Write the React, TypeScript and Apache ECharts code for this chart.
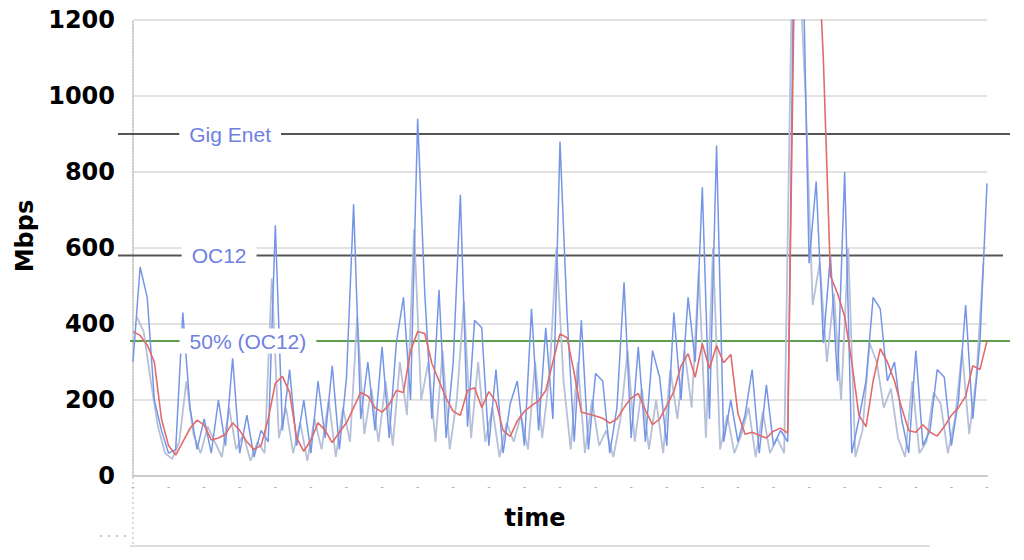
import React, { useEffect, useRef } from "react";
import * as echarts from "echarts";

// time axis: 0..240, 24 tick intervals
const TIME_MIN = 0;
const TIME_MAX = 240;
const TIME_TICK = 10;
const STEP = 2;

// blue samples at t = 0, 2, 4, ... 240 (Mbps)
const blueValues = [
  300, 550, 470, 200, 120, 60, 70, 430, 180, 70,
  150, 60, 200, 80, 310, 60, 160, 50, 120, 90,
  660, 120, 280, 80, 200, 60, 250, 100, 290, 70,
  260, 715, 150, 300, 120, 340, 100, 350, 470, 200,
  940, 480, 150, 490, 100, 300, 740, 130, 410, 390,
  80, 280, 60, 190, 250, 80, 440, 120, 390, 150,
  880, 420, 90, 410, 70, 270, 250, 60, 180, 510,
  100, 340, 90, 330, 260, 80, 430, 200, 470, 300,
  760, 150, 870, 90, 200, 90, 160, 280, 60, 240,
  80, 120, 90, 1600, 1500, 560, 775, 350, 580, 250,
  800, 60, 150, 250, 470, 440, 250, 300, 150, 60,
  330, 80, 120, 280, 260, 80, 200, 450, 150, 350,
  770,
];

// grey samples at t = 1, 3, 5, ... 239 (Mbps)
const grayValues = [
  420, 380, 250, 130, 60, 45, 90, 250, 110, 60,
  130, 90, 50, 180, 70, 110, 40, 90, 60, 520,
  100, 180, 60, 140, 40, 150, 70, 200, 50, 180,
  90, 420, 110, 230, 90, 250, 80, 300, 160, 650,
  200, 300, 90, 330, 70, 200, 460, 100, 300, 90,
  180, 50, 140, 90, 160, 70, 300, 100, 260, 600,
  250, 70, 300, 60, 200, 80, 120, 50, 150, 330,
  90, 230, 70, 200, 60, 280, 150, 330, 180, 540,
  100, 600, 70, 160, 60, 110, 180, 50, 170, 60,
  100, 60, 1200, 1400, 1000, 450, 560, 300, 480, 200,
  600, 50, 120, 350, 300, 180, 230, 100, 50, 250,
  60, 90, 220, 190, 60, 150, 330, 110, 260, 560,
];

// red (smoothed) samples at t = 0, 2, 4, ... 240 (Mbps)
const redValues = [
  380, 370, 345, 300, 150, 80, 55, 90, 125, 147,
  134, 95, 100, 110, 140, 120, 90, 70, 80, 150,
  244, 262, 220, 100, 65, 94, 140, 120, 88, 115,
  140, 180, 220, 210, 180, 168, 188, 225, 220, 330,
  380, 375, 296, 250, 205, 170, 160, 225, 232, 180,
  222, 195, 120, 104, 145, 170, 185, 198, 225, 300,
  374, 364, 270, 168, 163, 158, 152, 139, 150, 180,
  205, 217, 173, 135, 150, 185, 222, 290, 322, 260,
  348, 283, 343, 298, 320, 165, 110, 115, 107, 100,
  118, 126, 113, 1400, 1600, 1600, 1500, 1100, 527, 480,
  420, 300, 160, 130, 250, 335, 300, 250, 180, 120,
  115, 135, 115, 105, 130, 160, 180, 210, 290, 280,
  355,
];

const yTicks = [0, 200, 400, 600, 800, 1000, 1200];

// capacity reference lines
const refNames = ["Gig Enet", "OC12", "50% (OC12)"];
const refValues = [900, 580, 355];
const refLabelAt = [27.3, 24.2, 32.3];
const refColors = ["#555555", "#555555", "#5c9e4c"];

export default function App() {
  const ref = useRef<HTMLDivElement>(null);

  useEffect(() => {
    document.body.style.margin = "0";
    const chart = echarts.init(ref.current!, null, { renderer: "svg" });

    const blueData = blueValues.map((v, i) => [TIME_MIN + i * STEP, v]);
    const grayData = grayValues.map((v, i) => [TIME_MIN + i * STEP + 1, v]);
    const redData = redValues.map((v, i) => [TIME_MIN + i * STEP, v]);

    chart.setOption({
      animation: false,
      grid: { left: 133, right: 37, top: 20, bottom: 84, containLabel: false },
      xAxis: {
        type: "value",
        min: TIME_MIN,
        max: TIME_MAX,
        interval: TIME_TICK,
        splitLine: { show: false },
        axisTick: { show: false },
        axisLine: { show: true, lineStyle: { color: "#cccccc", width: 2 } },
        axisLabel: {
          formatter: () => "-",
          color: "#aaaaaa",
          fontSize: 10,
          margin: 5,
        },
        name: "time",
        nameLocation: "middle",
        nameGap: 30,
        nameTextStyle: {
          fontFamily: "DejaVu Sans",
          fontWeight: "bold",
          fontSize: 24,
          color: "#000",
          padding: [0, 50, 0, 0],
        },
      },
      yAxis: {
        type: "value",
        min: yTicks[0],
        max: yTicks[yTicks.length - 1],
        interval: 200,
        splitLine: { show: true, lineStyle: { color: "#e2e2e2", width: 2 } },
        axisTick: { show: false },
        axisLine: {
          show: true,
          lineStyle: { color: "#bbbbbb", type: "dotted", width: 1.5 },
        },
        axisLabel: {
          color: "#000",
          fontFamily: "DejaVu Sans",
          fontWeight: "bold",
          fontSize: 24,
          margin: 18,
          formatter: (v: number) => String(v),
        },
        name: "Mbps",
        nameLocation: "middle",
        nameRotate: 90,
        nameGap: 92,
        nameTextStyle: {
          fontFamily: "DejaVu Sans",
          fontWeight: "bold",
          fontSize: 24,
          color: "#000",
          padding: [0, 0, 0, 24],
        },
      },
      series: [
        {
          name: "grey",
          type: "line",
          showSymbol: false,
          symbol: "none",
          z: 2,
          data: grayData,
          lineStyle: { color: "#b6c0d8", width: 1.8 },
        },
        {
          name: "blue",
          type: "line",
          showSymbol: false,
          symbol: "none",
          z: 3,
          data: blueData,
          lineStyle: { color: "#7596e6", width: 1.5 },
        },
        {
          name: "avg",
          type: "line",
          showSymbol: false,
          symbol: "none",
          z: 4,
          data: redData,
          lineStyle: { color: "#e26a6a", width: 1.6 },
        },
      ],
    });

    const refGraphics: any[] = [];
    refNames.forEach((n, k) => {
      const lineY = (chart.convertToPixel({ gridIndex: 0 }, [0, refValues[k]]) as number[])[1];
      const lp = chart.convertToPixel({ gridIndex: 0 }, [refLabelAt[k], refValues[k]]) as number[];
      refGraphics.push({
        type: "line",
        z: 1,
        silent: true,
        shape: { x1: k === 2 ? 130 : 118, y1: lineY, x2: k === 1 ? 1003 : 1010, y2: lineY },
        style: { stroke: refColors[k], lineWidth: 2 },
      });
      refGraphics.push({
        type: "text",
        x: lp[0],
        y: lp[1],
        z: 10,
        style: {
          text: n,
          fill: "#6f80e2",
          font: '21px "Liberation Sans"',
          align: "center",
          verticalAlign: "middle",
          backgroundColor: "#ffffff",
          padding: [2, 10, 2, 10],
        },
      });
    });

    chart.setOption({
      graphic: [
        {
          type: "line",
          shape: { x1: 133, y1: 477, x2: 133, y2: 545 },
          style: { stroke: "#cccccc", lineWidth: 1.5, lineDash: [2, 3] },
        },
        {
          type: "line",
          shape: { x1: 130, y1: 546, x2: 930, y2: 546 },
          style: { stroke: "#dddddd", lineWidth: 2 },
        },
        {
          type: "line",
          shape: { x1: 100, y1: 536, x2: 128, y2: 536 },
          style: { stroke: "#bbbbbb", lineWidth: 1.5, lineDash: [2, 6] },
        },
        ...refGraphics,
      ],
    });

    return () => chart.dispose();
  }, []);

  return <div ref={ref} style={{ width: 1024, height: 560 }} />;
}
